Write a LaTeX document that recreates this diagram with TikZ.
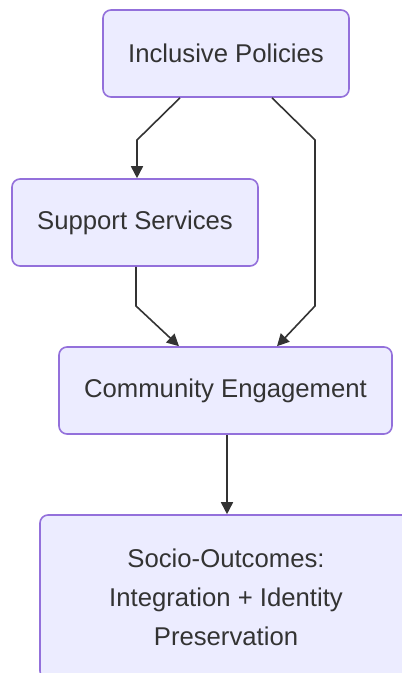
\documentclass[tikz,border=0pt]{standalone}
\usepackage{fontspec}
\setmainfont{Liberation Sans}
\usetikzlibrary{arrows.meta}
\definecolor{boxfill}{HTML}{ECECFF}
\definecolor{boxline}{HTML}{9370DB}
\definecolor{ink}{HTML}{333333}
\tikzset{
  box/.style={draw=boxline, fill=boxfill, line width=1.6pt, rounded corners=8pt,
    text=ink, font=\fontsize{25.7}{39}\selectfont, align=center, inner sep=0pt},
  arr/.style={draw=ink, line width=1.6pt, -{Triangle[length=12pt,width=12pt]}}
}
\begin{document}
\begin{tikzpicture}[x=1pt,y=-1pt]
\useasboundingbox (0,0) rectangle (402,673);
\clip (0,0) rectangle (402,673);
\fill[white] (0,0) rectangle (402,673);
\node[box, minimum width=246pt, minimum height=87pt] (ip) at (226,53.5) {Inclusive Policies};
\node[box, minimum width=246pt, minimum height=87pt] (ss) at (135,222.5) {Support Services};
\node[box, minimum width=333pt, minimum height=87pt] (ce) at (225.5,390.5) {Community Engagement};
\node[box, minimum width=372pt, minimum height=164pt] (so) at (226,597) {Socio-Outcomes:\\Integration + Identity\\Preservation};
\coordinate (a1) at (137,140);
\coordinate (b1) at (315,140);
\coordinate (b2) at (315,306);
\coordinate (c1) at (136,306);
\draw[arr] (ip.south -| 180,0) -- (a1) -- (a1 |- ss.north);
\draw[arr] (ip.south -| 272,0) -- (b1) -- (b2) -- (ce.north -| 277,0);
\draw[arr] (ss.south -| 136,0) -- (c1) -- (ce.north -| 179,0);
\draw[arr] (ce.south -| 227,0) -- (so.north -| 227,0);
\end{tikzpicture}
\end{document}
